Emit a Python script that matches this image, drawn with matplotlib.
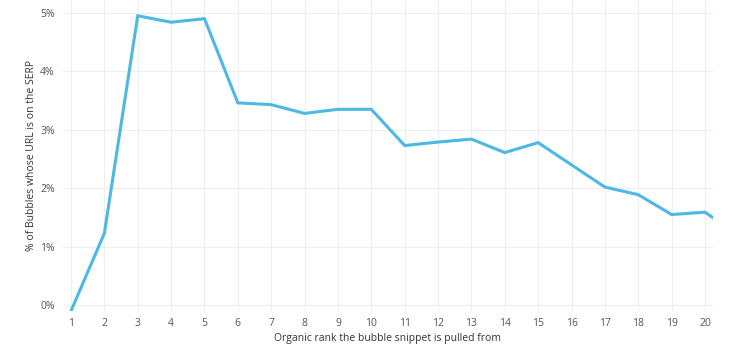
import numpy as np
import matplotlib.pyplot as plt
from matplotlib.ticker import FuncFormatter, MultipleLocator

plt.rcParams['font.family'] = ['Open Sans', 'DejaVu Sans']

# organic rank 1..21 (21 is cut off by the right edge)
ranks = [1, 2, 3, 4, 5, 6, 7, 8, 9, 10, 11, 12, 13, 14, 15, 16, 17, 18, 19, 20, 21]
share = [-0.1, 1.23, 4.95, 4.84, 4.90, 3.46, 3.43, 3.28, 3.35, 3.35, 2.73, 2.79, 2.84,
         2.61, 2.78, 2.40, 2.02, 1.89, 1.55, 1.59, 1.20]
yticks = [0, 1, 2, 3, 4, 5]

fig = plt.figure(figsize=(7.38, 3.58), dpi=100)
ax = fig.add_axes([63 / 738, 47 / 358, 650 / 738, 311 / 358])

ax.plot(ranks, share, color='#4db8e2', lw=2.2, solid_joinstyle='miter')

ax.set_xlim(0.76, 20.24)
ax.set_ylim(-0.1, 5.22)
ax.set_xticks(range(1, 21))
ax.set_yticks(yticks)
ax.yaxis.set_major_formatter(FuncFormatter(lambda v, p: '%d%%' % v))

ax.grid(True, color='#eeeeee', lw=0.8)
ax.set_axisbelow(True)
for s in ax.spines.values():
    s.set_visible(False)
ax.tick_params(axis='x', length=0, labelsize=7.5, colors='#555555', pad=5)
ax.tick_params(axis='y', length=0, labelsize=7.5, colors='#555555', pad=6)

ax.set_xlabel('Organic rank the bubble snippet is pulled from', fontsize=7.5,
              color='#333333', labelpad=3)
ax.set_ylabel('% of Bubbles whose URL is on the SERP', fontsize=7.5,
              color='#333333', labelpad=2)

fig.savefig('out.png', dpi=100)
